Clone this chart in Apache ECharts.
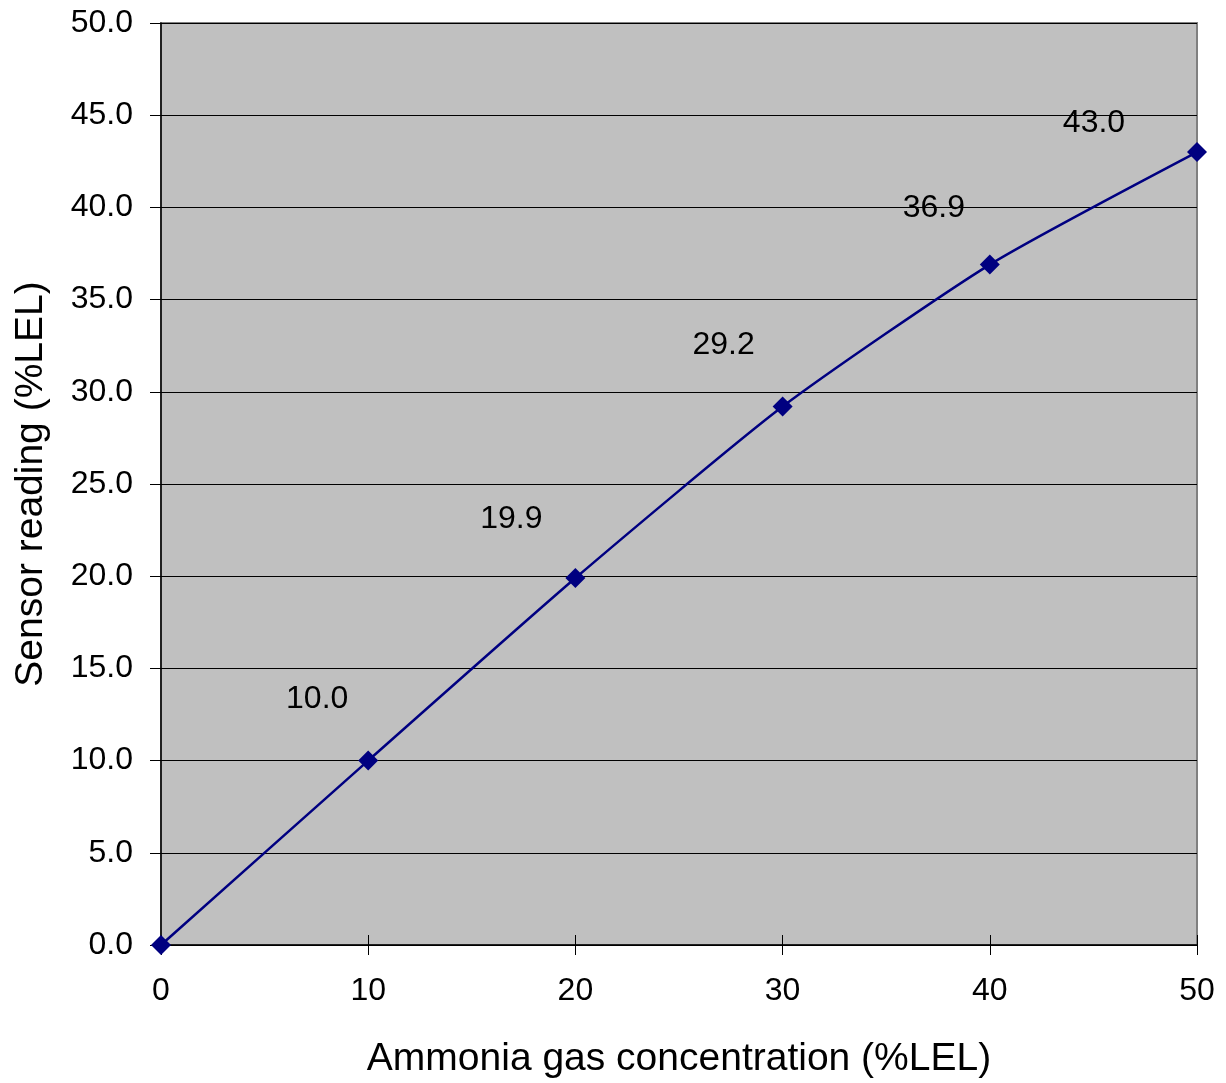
<!DOCTYPE html>
<html>
<head>
<meta charset="utf-8">
<script src="https://cdn.jsdelivr.net/npm/echarts@6/dist/echarts.min.js"></script>
<style>
  html, body { margin: 0; padding: 0; background: #fff; }
  #chart { width: 1226px; height: 1083px; }
</style>
</head>
<body>
<div id="chart"></div>
<script>
// Calibration: ammonia gas concentration vs. sensor reading
const concentration = [0, 10, 20, 30, 40, 50];
const reading = [0.0, 10.0, 19.9, 29.2, 36.9, 43.0];
// label placement for each point, in px relative to the marker
const labelOffsets = [null, [-51, -61], [-64, -59], [-59, -61], [-56, -56], [-103, -29]];

const FONT = '"Liberation Sans", Arial, sans-serif';

const points = concentration.map((x, i) => ({
  value: [x, reading[i]],
  label: labelOffsets[i]
    ? { show: true, offset: labelOffsets[i] }
    : { show: false }
}));

const chart = echarts.init(document.getElementById('chart'), null, { renderer: 'canvas' });
chart.setOption({
  backgroundColor: '#ffffff',
  animation: false,
  grid: {
    left: 161, right: 29, top: 23, bottom: 138,
    containLabel: false, outerBoundsMode: 'none',
    show: true, backgroundColor: '#c0c0c0', borderColor: '#808080', borderWidth: 2
  },
  xAxis: [{
    type: 'value', min: 0, max: 50, interval: 10,
    name: 'Ammonia gas concentration (%LEL)',
    nameLocation: 'middle', nameGap: 95,
    nameTextStyle: { fontFamily: FONT, fontSize: 39, color: '#000' },
    axisLine: { show: true, onZero: false, lineStyle: { color: '#000', width: 1.5 } },
    axisTick: { show: true, length: 10, lineStyle: { color: '#000' } },
    axisLabel: { fontFamily: FONT, fontSize: 32, color: '#000', margin: 30 },
    splitLine: { show: false }
  }, {
    // inner half of the crossing ticks
    type: 'value', min: 0, max: 50, interval: 10, position: 'bottom',
    axisLine: { show: false },
    axisTick: { show: true, inside: true, length: 10, lineStyle: { color: '#000' } },
    axisLabel: { show: false },
    splitLine: { show: false }
  }],
  yAxis: [{
    type: 'value', min: 0, max: 50, interval: 5,
    name: 'Sensor reading (%LEL)',
    nameLocation: 'middle', nameGap: 110, nameRotate: 90,
    nameTextStyle: { fontFamily: FONT, fontSize: 39, color: '#000' },
    axisLine: { show: true, onZero: false, lineStyle: { color: '#000', width: 1.5 } },
    axisTick: { show: true, length: 11, lineStyle: { color: '#000' } },
    axisLabel: { fontFamily: FONT, fontSize: 32, color: '#000', margin: 28,
                 formatter: v => v.toFixed(1) },
    splitLine: { show: true, lineStyle: { color: '#000', width: 1 } }
  }, {
    type: 'value', min: 0, max: 50, interval: 5, position: 'left',
    axisLine: { show: false },
    axisTick: { show: true, inside: true, length: 11, lineStyle: { color: '#000' } },
    axisLabel: { show: false },
    splitLine: { show: false }
  }],
  series: [{
    type: 'line',
    data: points,
    smooth: 0.2,
    symbol: 'diamond',
    symbolSize: 20,
    lineStyle: { color: '#000080', width: 2.5 },
    itemStyle: { color: '#000080' },
    label: {
      position: 'inside',
      fontFamily: FONT, fontSize: 32, color: '#000',
      formatter: p => p.value[1].toFixed(1)
    }
  }]
});
</script>
</body>
</html>
